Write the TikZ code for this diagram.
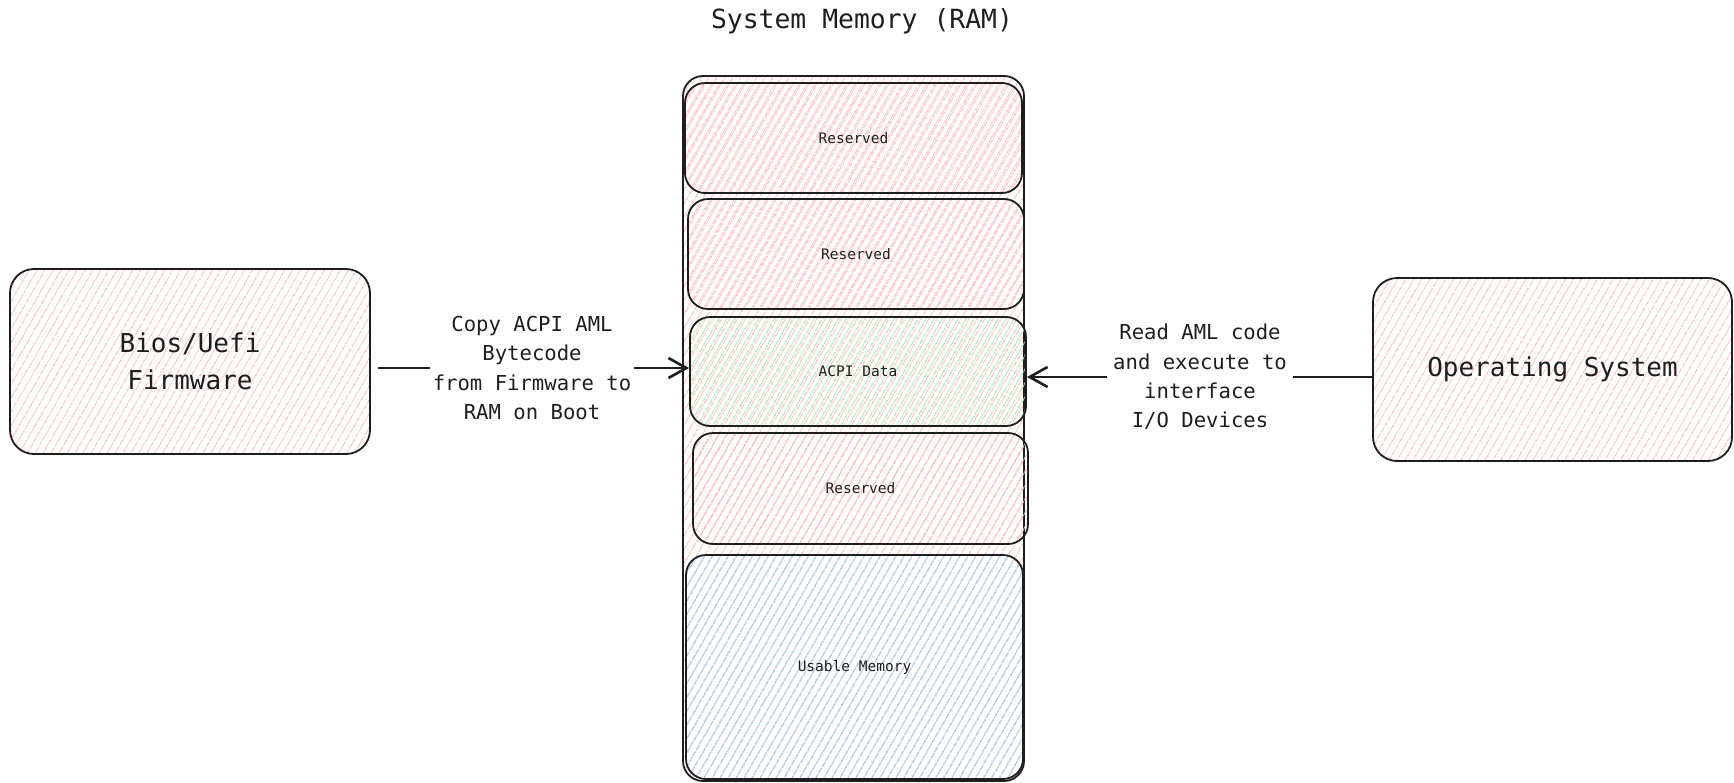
\documentclass[tikz,border=0pt]{standalone}
\usepackage{fontspec}
\setmonofont{DejaVu Sans Mono}
\usetikzlibrary{patterns.meta,arrows.meta}

\definecolor{ink}{HTML}{1E1E1E}
\definecolor{hatchred}{HTML}{FFBDBD}
\definecolor{hatchgreen}{HTML}{A2EAAD}
\definecolor{hatchblue}{HTML}{9CCFF8}

\tikzset{
  hatch/.style={pattern={Lines[angle=60,distance=6.5pt,line width=1.25pt]},pattern color=#1},
  block/.style={draw=ink, line width=1.8pt, rounded corners=#1, inner sep=0pt},
  bigtext/.style={font=\ttfamily\fontsize{26}{39}\selectfont, text=ink, align=center},
  memtext/.style={font=\ttfamily\fontsize{14.5}{18}\selectfont, text=ink},
  edgetext/.style={font=\ttfamily\fontsize{20.6}{29.3}\selectfont, text=ink, align=center, inner xsep=3pt},
  conn/.style={draw=ink, line width=2.6pt},
  tip/.style={-{Straight Barb[length=18pt,width=20pt,line width=2.6pt]}}
}

\begin{document}
\begin{tikzpicture}[x=1pt,y=-1pt]
\useasboundingbox (0,0) rectangle (1734,782);

% title
\node[font=\ttfamily\fontsize{26.4}{30}\selectfont, text=ink] (title) at (862,21) {System Memory (RAM)};

% firmware and OS blocks
\node[block=24pt, hatch=hatchred, minimum width=360pt, minimum height=185pt, bigtext] (bios) at (190,361.5) {\raisebox{-2pt}{Bios/Uefi}\\Firmware};
\node[block=24pt, hatch=hatchred, minimum width=359pt, minimum height=183pt, bigtext] (os) at (1552.5,369.5) {\raisebox{-4pt}{Operating System}};

% memory column
\node[block=20pt, hatch=hatchred, minimum width=341pt, minimum height=705pt] (mem) at (853.5,428.5) {};
\node[block=20pt, hatch=hatchred, minimum width=337pt, minimum height=110pt, memtext] (res1) at (853.5,138) {Reserved};
\node[block=20pt, hatch=hatchred, minimum width=336pt, minimum height=110pt, memtext] (res2) at (856,254) {Reserved};
\node[block=20pt, hatch=hatchgreen, minimum width=336pt, minimum height=109pt, memtext] (acpi) at (858,371.5) {ACPI Data};
\node[block=20pt, hatch=hatchred, minimum width=335pt, minimum height=111pt, memtext] (res3) at (860.5,488.5) {Reserved};
\node[block=20pt, hatch=hatchblue, minimum width=337pt, minimum height=224pt, memtext] (usable) at (854.5,667) {Usable Memory};

% connector labels
\node[edgetext] (copy) at (532,368) {Copy ACPI AML\\Bytecode\\from Firmware to\\RAM on Boot};
\node[edgetext, inner xsep=6pt] (read) at (1200,377) {Read AML code\\and execute to\\interface\\I/O Devices};

% connectors
\draw[conn] ([xshift=7pt]bios.east |- copy) -- (copy.west);
\draw[conn, tip] (copy.east) -- (acpi.west |- copy);
\draw[conn] (os.west |- read) -- (read.east);
\draw[conn, tip] (read.west) -- (acpi.east |- read);
\end{tikzpicture}
\end{document}
